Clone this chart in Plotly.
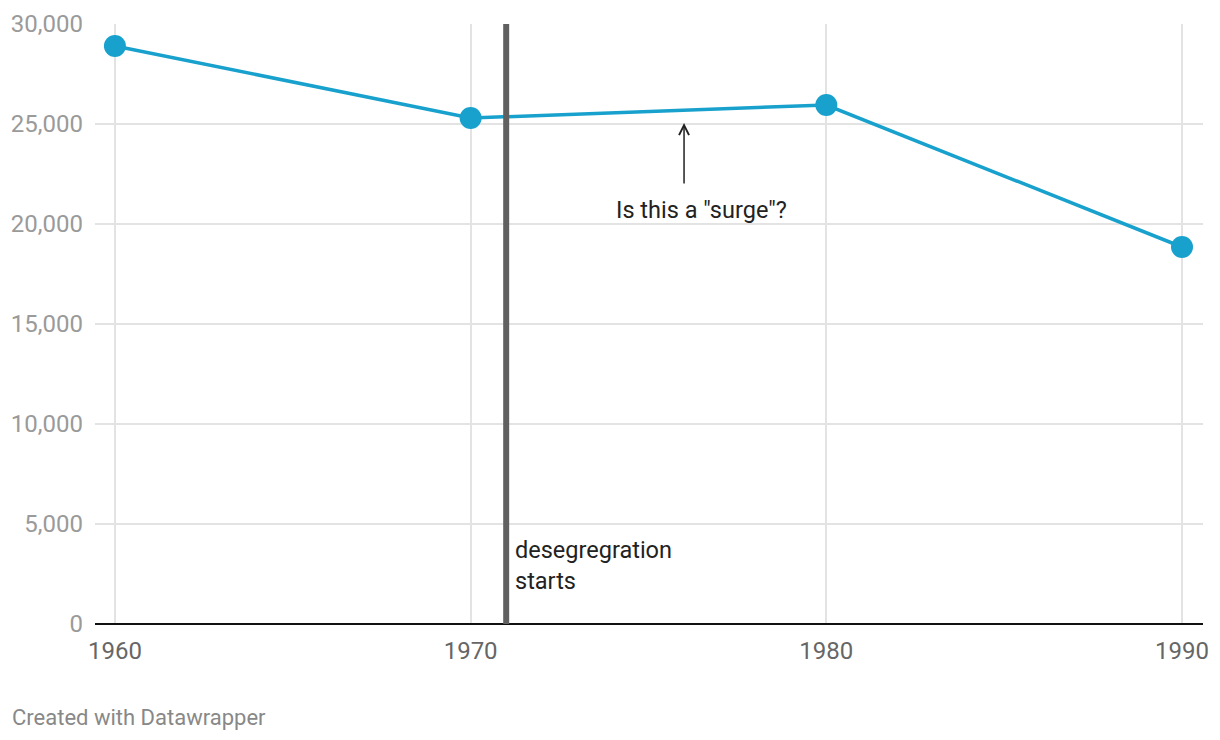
import plotly.graph_objects as go

years = [1960, 1970, 1980, 1990]
values = [28900, 25300, 25950, 18850]
x_ticks = [1960, 1970, 1980, 1990]
y_ticks = [0, 5000, 10000, 15000, 20000, 25000, 30000]
y_labels = ["0", "5,000", "10,000", "15,000", "20,000", "25,000", "30,000"]
event_year = 1971
event_label = "desegregration<br>starts"
arrow_year = 1976
question_label = 'Is this a "surge"?'

LINE = "#18a1cd"
FONT = "Roboto, 'Noto Sans', sans-serif"

ML, MR, MT, MB = 87, 25, 16, 124
PW = 1220 - ML - MR

fig = go.Figure()

fig.add_trace(go.Scatter(
    x=years, y=values, mode="lines+markers",
    line=dict(color=LINE, width=3.5),
    marker=dict(color=LINE, size=22),
    hoverinfo="skip", showlegend=False, cliponaxis=False,
))

# event line
fig.add_shape(type="line", xref="x", yref="y",
              x0=event_year, x1=event_year, y0=0, y1=30000,
              line=dict(color="#606060", width=6), layer="above")

fig.add_annotation(x=event_year, y=2950, xref="x", yref="y",
                   text=event_label, showarrow=False, align="left",
                   xanchor="left", yanchor="middle", xshift=7,
                   font=dict(family=FONT, size=23.5, color="#222222"))

# arrow annotation
fig.add_annotation(x=arrow_year, y=25050, ax=arrow_year, ay=21950,
                   xref="x", yref="y", axref="x", ayref="y",
                   text="", showarrow=True, arrowhead=5, arrowsize=1.3,
                   arrowwidth=1.5, arrowcolor="#222222")
fig.add_annotation(x=arrow_year + 0.5, y=20700, xref="x", yref="y",
                   text=question_label, showarrow=False,
                   xanchor="center", yanchor="middle",
                   font=dict(family=FONT, size=23.5, color="#222222"))

fig.add_annotation(x=(2 - ML) / PW, y=0, xref="paper", yref="paper",
                   text="Created with Datawrapper", showarrow=False,
                   xanchor="left", yanchor="middle", yshift=-93,
                   font=dict(family=FONT, size=22, color="#888888"))

fig.update_layout(
    width=1220, height=740,
    margin=dict(l=ML, r=MR, t=MT, b=MB, autoexpand=False),
    paper_bgcolor="white", plot_bgcolor="white",
    font=dict(family=FONT),
    xaxis=dict(range=[1959.44, 1990.59], tickvals=x_ticks,
               ticktext=[str(t) for t in x_ticks], automargin=False,
               showgrid=True, gridcolor="#e3e3e3", gridwidth=2,
               zeroline=False, showline=False, ticks="", ticklabelstandoff=10,
               tickfont=dict(family=FONT, size=24, color="#666666")),
    yaxis=dict(range=[0, 30000], tickvals=y_ticks, ticktext=y_labels,
               automargin=False,
               showgrid=True, gridcolor="#e3e3e3", gridwidth=2,
               zeroline=True, zerolinecolor="#111111", zerolinewidth=2,
               showline=False, ticks="", ticklabelstandoff=11,
               tickfont=dict(family=FONT, size=24, color="#9a9a9a")),
    hovermode=False,
)

fig.write_html("out.html")
